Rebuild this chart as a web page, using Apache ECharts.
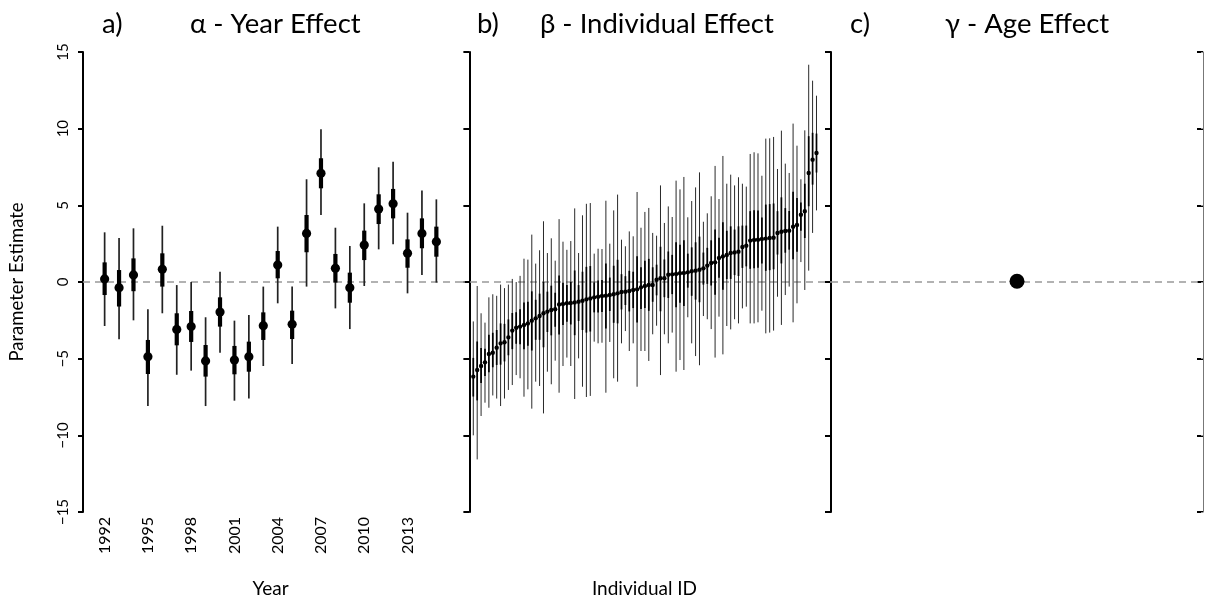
<!DOCTYPE html>
<html>
<head>
<meta charset="utf-8">
<script src="https://cdn.jsdelivr.net/npm/echarts@6/dist/echarts.min.js"></script>
<style>
  html, body { margin: 0; padding: 0; background: #fff; }
  #chart { width: 1205px; height: 603px; }
</style>
</head>
<body>
<div id="chart"></div>
<script>
// a) year effect
var years = [1992, 1993, 1994, 1995, 1996, 1997, 1998, 1999, 2000, 2001, 2002, 2003,
             2004, 2005, 2006, 2007, 2008, 2009, 2010, 2011, 2012, 2013, 2014, 2015];
var yearTicks = [1992, 1995, 1998, 2001, 2004, 2007, 2010, 2013];
var yearMid  = [0.2, -0.37, 0.46, -4.87, 0.83, -3.09, -2.91, -5.15, -1.96, -5.09, -4.87, -2.85,
                1.11, -2.76, 3.17, 7.09, 0.89, -0.37, 2.41, 4.76, 5.11, 1.87, 3.17, 2.63];
var yearLo95 = [-2.87, -3.74, -2.5, -8.09, -2.04, -6.05, -5.78, -8.09, -4.61, -7.74, -7.59, -5.48,
                -1.39, -5.35, -0.3, 4.37, -1.72, -3.07, -0.26, 2.13, 2.46, -0.74, 0.46, -0.04];
var yearHi95 = [3.24, 2.87, 3.5, -1.78, 3.67, -0.2, 0.0, -2.3, 0.67, -2.52, -2.15, -0.3,
                3.61, -0.3, 6.7, 9.96, 3.54, 2.35, 5.13, 7.48, 7.85, 4.52, 5.96, 5.39];
var yearLo50 = [-0.85, -1.6, -0.6, -6.0, -0.3, -4.13, -3.91, -6.17, -2.91, -6.02, -5.85, -3.78,
                0.24, -3.72, 1.94, 6.11, -0.04, -1.35, 1.43, 3.78, 4.15, 0.93, 2.2, 1.65];
var yearHi50 = [1.28, 0.78, 1.54, -3.78, 1.87, -2.04, -1.89, -4.11, -1.0, -4.17, -3.89, -1.98,
                2.02, -1.87, 4.37, 8.07, 1.83, 0.61, 3.35, 5.72, 6.07, 2.78, 4.15, 3.61];

// b) individual effect, sorted by estimate
var indMid = [-6.17, -5.74, -5.48, -5.24, -4.7, -4.61, -4.28, -4.0, -3.93, -3.61, -3.17, -2.98,
              -2.91, -2.8, -2.7, -2.52, -2.37, -2.22, -2.04, -1.93, -1.83, -1.78, -1.46, -1.43,
              -1.39, -1.37, -1.33, -1.28, -1.22, -1.13, -1.07, -1.0, -0.96, -0.91, -0.89, -0.85,
              -0.8, -0.74, -0.65, -0.63, -0.59, -0.52, -0.48, -0.35, -0.26, -0.2, -0.2, 0.15,
              0.24, 0.25, 0.48, 0.5, 0.52, 0.57, 0.59, 0.63, 0.7, 0.74, 0.8, 0.89,
              1.07, 1.24, 1.28, 1.57, 1.67, 1.76, 1.89, 1.93, 1.98, 2.28, 2.37, 2.7,
              2.74, 2.76, 2.8, 2.83, 2.87, 2.89, 3.2, 3.28, 3.33, 3.35, 3.61, 3.72,
              4.39, 4.61, 7.11, 7.98, 8.41];
var indLo95 = [-10.0, -11.57, -8.74, -7.87, -8.2, -7.4, -7.6, -8.09, -7.6, -7.04, -6.72, -6.07,
               -6.28, -7.48, -7.0, -8.26, -6.5, -6.78, -8.57, -5.85, -6.67, -5.13, -7.22, -5.48,
               -4.93, -5.48, -7.63, -4.98, -6.83, -7.5, -7.43, -3.89, -4.0, -3.96, -7.22, -3.91,
               -6.28, -6.5, -4.0, -3.2, -4.5, -4.0, -6.83, -4.5, -4.5, -5.15, -3.41, -2.85,
               -6.07, -3.41, -4.0, -3.3, -5.85, -5.09, -5.74, -2.3, -4.0, -4.83, -5.43, -2.22,
               -2.43, -3.07, -4.93, -2.26, -4.72, -2.87, -3.09, -2.43, -2.7, -1.72, -1.61, -2.7,
               -2.7, -2.63, -1.87, -3.35, -3.3, -3.17, -0.96, -2.8, -0.85, -0.3, -2.63, -1.39,
               1.3, -0.52, 0.74, 3.2, 4.67];
var indHi95 = [-2.57, -0.26, -2.04, -2.65, -1.0, -0.8, -0.9, -0.17, -0.4, -0.17, 0.2, 0.0,
               0.4, 1.52, 1.46, 3.09, 1.2, 2.07, 3.96, 1.89, 2.85, 1.39, 4.1, 2.63,
               2.1, 2.67, 4.8, 1.89, 4.35, 5.1, 5.15, 1.85, 2.17, 2.15, 5.3, 2.5,
               4.67, 5.7, 2.76, 2.33, 3.3, 2.98, 5.87, 3.54, 4.57, 4.83, 3.2, 3.02,
               6.3, 3.85, 4.93, 4.24, 6.61, 6.04, 6.85, 4.22, 5.28, 6.17, 7.15, 3.93,
               4.48, 5.59, 7.57, 5.41, 8.22, 6.41, 7.0, 6.3, 6.83, 6.41, 6.22, 8.35,
               8.46, 8.39, 6.93, 9.35, 9.37, 9.46, 7.37, 9.87, 7.72, 7.11, 10.33, 8.89,
               6.7, 9.89, 14.17, 13.13, 12.15];
var indLo50 = [-7.47, -7.72, -6.59, -6.13, -5.89, -5.56, -5.41, -5.39, -5.18, -4.78, -4.38, -4.03,
               -4.06, -4.39, -4.16, -4.47, -3.77, -3.77, -4.26, -3.26, -3.48, -2.92, -3.42, -2.81,
               -2.59, -2.77, -3.47, -2.54, -3.13, -3.3, -3.23, -1.98, -1.99, -1.95, -3.04, -1.89,
               -2.66, -2.7, -1.79, -1.5, -1.92, -1.7, -2.64, -1.76, -1.7, -1.88, -1.29, -0.87,
               -1.91, -0.99, -1.04, -0.79, -1.65, -1.35, -1.56, -0.37, -0.9, -1.15, -1.32, -0.17,
               -0.12, -0.23, -0.83, 0.27, -0.5, 0.19, 0.2, 0.45, 0.39, 0.92, 1.02, 0.86,
               0.89, 0.93, 1.21, 0.73, 0.77, 0.83, 1.79, 1.21, 1.91, 2.11, 1.49, 1.98,
               3.34, 2.87, 4.94, 6.35, 7.14];
var indHi50 = [-4.95, -3.88, -4.31, -4.36, -3.44, -3.31, -3.13, -2.7, -2.73, -2.44, -2.02, -1.97,
               -1.78, -1.33, -1.29, -0.61, -1.16, -0.76, 0.0, -0.63, -0.24, -0.7, 0.43, -0.05,
               -0.2, 0.0, 0.75, -0.2, 0.67, 0.99, 1.04, -0.03, 0.1, 0.13, 1.21, 0.29,
               1.06, 1.45, 0.51, 0.38, 0.73, 0.67, 1.68, 0.97, 1.38, 1.51, 0.96, 1.13,
               2.3, 1.47, 1.99, 1.77, 2.59, 2.43, 2.72, 1.85, 2.26, 2.59, 2.96, 1.92,
               2.23, 2.72, 3.42, 2.88, 3.9, 3.34, 3.63, 3.42, 3.63, 3.68, 3.68, 4.62,
               4.68, 4.67, 4.2, 5.05, 5.08, 5.12, 4.62, 5.52, 4.82, 4.63, 5.89, 5.48,
               5.18, 6.41, 9.51, 9.73, 9.68];

// c) age effect
var ageMid = [0.05];

var FONT = 'Lato, "Open Sans", sans-serif';

function minusSign(v) {
    return String(v).replace('-', '\u2212');
}

function errorBars(thinColor, thinW, thickW, r) {
    return function (params, api) {
        var x = api.value(0);
        var lo95 = api.coord([x, api.value(1)]);
        var mid = api.coord([x, api.value(2)]);
        var hi95 = api.coord([x, api.value(3)]);
        var lo50 = api.coord([x, api.value(4)]);
        var hi50 = api.coord([x, api.value(5)]);
        return {
            type: 'group',
            children: [
                { type: 'line', shape: { x1: lo95[0], y1: lo95[1], x2: hi95[0], y2: hi95[1] },
                  style: { stroke: thinColor, lineWidth: thinW } },
                { type: 'line', shape: { x1: lo50[0], y1: lo50[1], x2: hi50[0], y2: hi50[1] },
                  style: { stroke: '#000', lineWidth: thickW } },
                { type: 'circle', shape: { cx: mid[0], cy: mid[1], r: r },
                  style: { fill: '#000' } }
            ]
        };
    };
}

var yearData = years.map(function (y, i) {
    return [y, yearLo95[i], yearMid[i], yearHi95[i], yearLo50[i], yearHi50[i]];
});
var indData = indMid.map(function (m, i) {
    return [i + 1, indLo95[i], m, indHi95[i], indLo50[i], indHi50[i]];
});

var xRange = [[1990.5, 2016.5], [-2.92, 92.72], [0, 2]];

function zeroLine(k) {
    return {
        type: 'line', xAxisIndex: k, yAxisIndex: k === 2 ? 3 : k,
        data: [[xRange[k][0], 0], [xRange[k][1], 0]],
        showSymbol: false, silent: true, z: 1,
        lineStyle: { color: '#999', width: 1.5, type: [7, 5] }
    };
}

var yBase = { type: 'value', min: -15, max: 15, interval: 5, splitLine: { show: false } };

var titleStyle = { fontSize: 27.5, fontWeight: 'normal', color: '#000', fontFamily: FONT };

var option = {
    animation: false,
    backgroundColor: '#fff',
    title: [
        { text: 'a)', left: 97, top: 5, textStyle: titleStyle },
        { text: '\u03b1 - Year Effect', left: 185, top: 5, textStyle: titleStyle },
        { text: 'b)', left: 472, top: 5, textStyle: titleStyle },
        { text: '\u03b2 - Individual Effect', left: 535, top: 5, textStyle: titleStyle },
        { text: 'c)', left: 845, top: 5, textStyle: titleStyle },
        { text: '\u03b3 - Age Effect', left: 940, top: 5, textStyle: titleStyle }
    ],
    grid: [
        { left: 83, top: 52, width: 375, height: 460 },
        { left: 458, top: 52, width: 373, height: 460 },
        { left: 831, top: 52, width: 372, height: 460 }
    ],
    xAxis: [
        { type: 'value', gridIndex: 0, min: xRange[0][0], max: xRange[0][1],
          axisLine: { show: false }, axisTick: { show: false }, splitLine: { show: false },
          axisLabel: { customValues: yearTicks, rotate: 90, margin: 5, fontSize: 16,
                       color: '#000', fontFamily: FONT,
                       formatter: function (v) { return String(v); } },
          name: 'Year', nameLocation: 'middle', nameGap: 67,
          nameTextStyle: { fontSize: 19, color: '#000', fontFamily: FONT } },
        { type: 'value', gridIndex: 1, min: xRange[1][0], max: xRange[1][1],
          axisLine: { show: false }, axisTick: { show: false }, splitLine: { show: false },
          axisLabel: { show: false },
          name: 'Individual ID', nameLocation: 'middle', nameGap: 67,
          nameTextStyle: { fontSize: 19, color: '#000', fontFamily: FONT } },
        { type: 'value', gridIndex: 2, min: xRange[2][0], max: xRange[2][1],
          axisLine: { show: false }, axisTick: { show: false }, splitLine: { show: false },
          axisLabel: { show: false } }
    ],
    yAxis: [
        Object.assign({}, yBase, {
            gridIndex: 0,
            axisLine: { show: true, lineStyle: { color: '#000', width: 2 } },
            axisTick: { show: true, length: 5, lineStyle: { color: '#000', width: 2 } },
            axisLabel: { rotate: 90, margin: 12, fontSize: 15, color: '#000',
                         fontFamily: FONT, formatter: minusSign },
            name: 'Parameter Estimate', nameLocation: 'middle', nameRotate: 90, nameGap: 56,
            nameTextStyle: { fontSize: 18.5, color: '#000', fontFamily: FONT }
        }),
        Object.assign({}, yBase, {
            gridIndex: 1,
            axisLine: { show: true, lineStyle: { color: '#000', width: 2 } },
            axisTick: { show: true, length: 6, lineStyle: { color: '#000', width: 2 } },
            axisLabel: { show: false }
        }),
        Object.assign({}, yBase, {
            gridIndex: 1,
            axisLine: { show: false },
            axisTick: { show: true, inside: true, length: 6, lineStyle: { color: '#000', width: 2 } },
            axisLabel: { show: false }
        }),
        Object.assign({}, yBase, {
            gridIndex: 2,
            axisLine: { show: true, lineStyle: { color: '#000', width: 2 } },
            axisTick: { show: true, length: 6, lineStyle: { color: '#000', width: 2 } },
            axisLabel: { show: false }
        }),
        Object.assign({}, yBase, {
            gridIndex: 2,
            axisLine: { show: false },
            axisTick: { show: true, inside: true, length: 6, lineStyle: { color: '#000', width: 2 } },
            axisLabel: { show: false }
        }),
        Object.assign({}, yBase, {
            gridIndex: 2, position: 'right',
            axisLine: { show: true, lineStyle: { color: '#777', width: 1 } },
            axisTick: { show: true, inside: true, length: 2, lineStyle: { color: '#999', width: 1 } },
            axisLabel: { show: false }
        })
    ],
    series: [
        zeroLine(0),
        zeroLine(1),
        zeroLine(2),
        {
            type: 'custom', name: 'Year effect', xAxisIndex: 0, yAxisIndex: 0, z: 3,
            renderItem: errorBars('#222', 1.7, 4.2, 4.6),
            data: yearData
        },
        {
            type: 'custom', name: 'Individual effect', xAxisIndex: 1, yAxisIndex: 1, z: 3,
            renderItem: errorBars('#2a2a2a', 1, 1.7, 2.2),
            data: indData
        },
        {
            type: 'scatter', name: 'Age effect', xAxisIndex: 2, yAxisIndex: 3, z: 3,
            symbolSize: 15, itemStyle: { color: '#000', opacity: 1 },
            data: ageMid.map(function (v) { return [1, v]; })
        }
    ]
};

var chart = echarts.init(document.getElementById('chart'));
chart.setOption(option);
window.addEventListener('resize', function () {
    chart.resize();
});
</script>
</body>
</html>
